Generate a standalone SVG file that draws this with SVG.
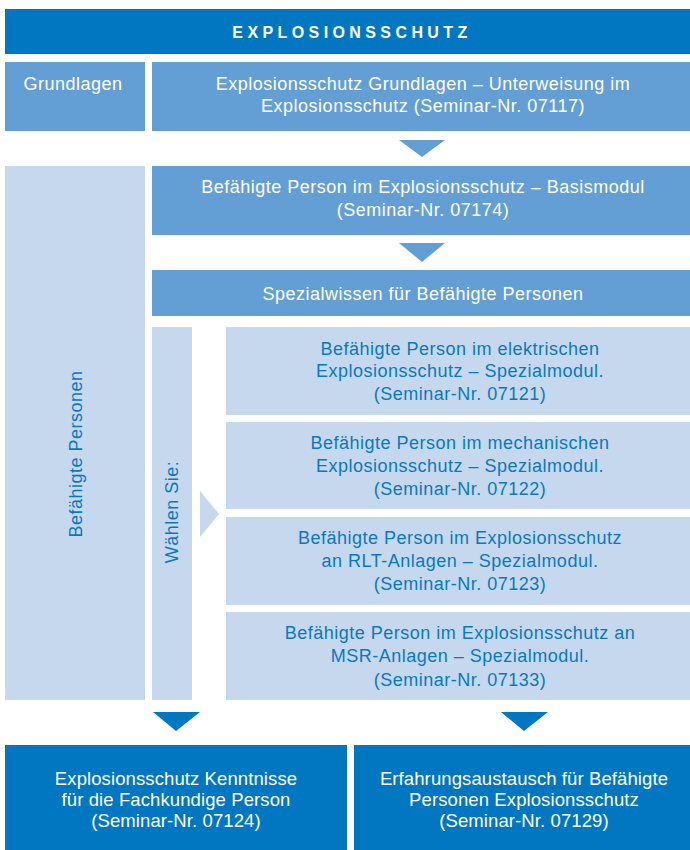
<svg xmlns="http://www.w3.org/2000/svg" width="690" height="850" viewBox="0 0 690 850">
<style>
.dark{fill:#0077C0}
.mid{fill:#639FD4}
.light{fill:#C5D8EE}
text{font-family:"Liberation Sans",Arial,sans-serif;font-size:18px;letter-spacing:0.5px;text-anchor:middle}
.w{fill:#ffffff}
.b{fill:#0A78C0}
.bot{font-size:18.5px;letter-spacing:0.1px}
.title{font-weight:bold;font-size:16px;letter-spacing:4.4px}
</style>
<rect width="690" height="850" fill="#ffffff"/>
<g id="title">
<rect class="dark" x="5" y="9" width="685" height="45"/>
<text class="w title" x="352" y="38">EXPLOSIONSSCHUTZ</text>
</g>
<g id="grundlagen">
<rect class="mid" x="5" y="62" width="140" height="69"/>
<text class="w" x="73" y="90">Grundlagen</text>
</g>
<g id="n07117">
<rect class="mid" x="152" y="62" width="538" height="69"/>
<text class="w" x="423" y="90">Explosionsschutz Grundlagen – Unterweisung im</text>
<text class="w" x="423" y="112">Explosionsschutz (Seminar-Nr. 07117)</text>
</g>
<g id="befaehigte">
<rect class="light" x="5" y="166" width="140" height="534"/>
<text class="b" transform="translate(82,454) rotate(-90)">Befähigte Personen</text>
</g>
<g id="n07174">
<rect class="mid" x="152" y="166" width="538" height="69"/>
<text class="w" x="423" y="193">Befähigte Person im Explosionsschutz – Basismodul</text>
<text class="w" x="423" y="216">(Seminar-Nr. 07174)</text>
</g>
<g id="spezial">
<rect class="mid" x="152" y="270" width="538" height="46"/>
<text class="w" x="423" y="300">Spezialwissen für Befähigte Personen</text>
</g>
<g id="waehlen">
<rect class="light" x="152" y="327" width="40" height="373"/>
<text class="b" transform="translate(178,512) rotate(-90)">Wählen Sie:</text>
</g>
<g id="n07121">
<rect class="light" x="226" y="327" width="464" height="88"/>
<text class="b" x="460" y="355">Befähigte Person im elektrischen</text>
<text class="b" x="460" y="377">Explosionsschutz – Spezialmodul.</text>
<text class="b" x="460" y="400">(Seminar-Nr. 07121)</text>
</g>
<g id="n07122">
<rect class="light" x="226" y="422" width="464" height="87"/>
<text class="b" x="460" y="449">Befähigte Person im mechanischen</text>
<text class="b" x="460" y="472">Explosionsschutz – Spezialmodul.</text>
<text class="b" x="460" y="495">(Seminar-Nr. 07122)</text>
</g>
<g id="n07123">
<rect class="light" x="226" y="517" width="464" height="88"/>
<text class="b" x="460" y="544">Befähigte Person im Explosionsschutz</text>
<text class="b" x="460" y="567">an RLT-Anlagen – Spezialmodul.</text>
<text class="b" x="460" y="590">(Seminar-Nr. 07123)</text>
</g>
<g id="n07133">
<rect class="light" x="226" y="612" width="464" height="88"/>
<text class="b" x="460" y="639">Befähigte Person im Explosionsschutz an</text>
<text class="b" x="460" y="662">MSR-Anlagen – Spezialmodul.</text>
<text class="b" x="460" y="686">(Seminar-Nr. 07133)</text>
</g>
<g id="n07124">
<rect class="dark" x="5" y="745" width="342" height="105"/>
<text class="w bot" x="176" y="785">Explosionsschutz Kenntnisse</text>
<text class="w bot" x="176" y="806">für die Fachkundige Person</text>
<text class="w bot" x="176" y="827">(Seminar-Nr. 07124)</text>
</g>
<g id="n07129">
<rect class="dark" x="354" y="745" width="336" height="105"/>
<text class="w bot" x="524" y="785">Erfahrungsaustausch für Befähigte</text>
<text class="w bot" x="524" y="806">Personen Explosionsschutz</text>
<text class="w bot" x="524" y="827">(Seminar-Nr. 07129)</text>
</g>
<g id="connectors">
<polygon class="mid" points="399,140 445,140 422,157"/>
<polygon class="mid" points="399,243 445,243 422,262"/>
<polygon class="light" points="200,491 219,514 200,537"/>
<polygon class="dark" points="153,712 200,712 176,731"/>
<polygon class="dark" points="501,712 548,712 524,731"/>
</g>
</svg>
